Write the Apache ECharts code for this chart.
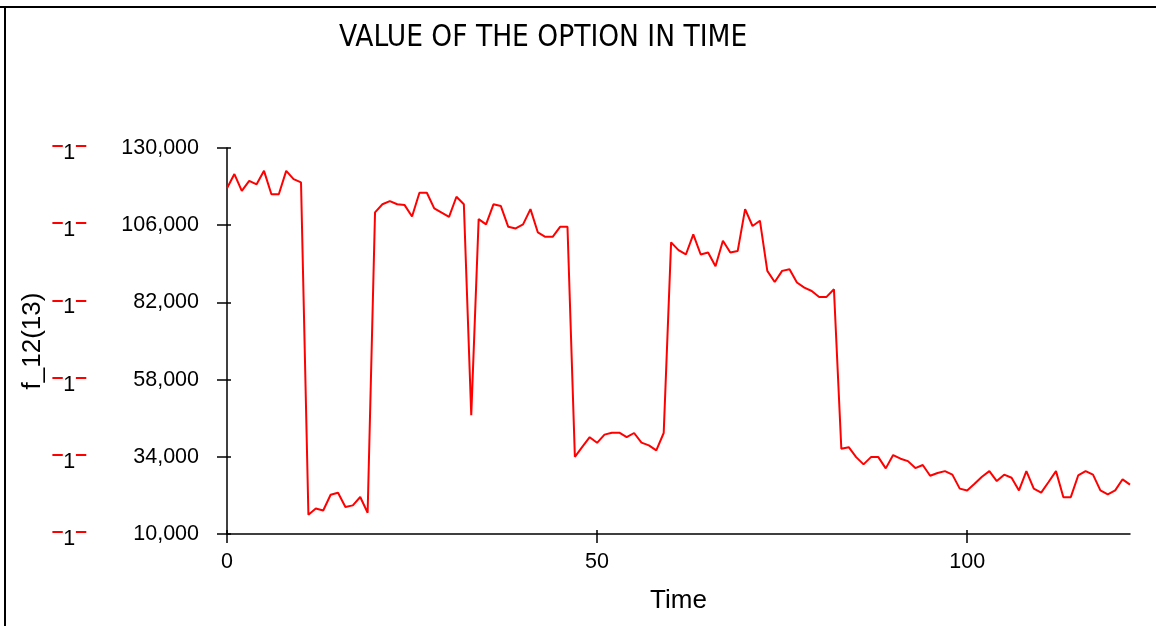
<!DOCTYPE html>
<html>
<head>
<meta charset="utf-8">
<title>VALUE OF THE OPTION IN TIME</title>
<script src="https://cdn.jsdelivr.net/npm/echarts@6/dist/echarts.min.js"></script>
<style>
  html, body { margin: 0; padding: 0; background: #fff; }
  #main { width: 1156px; height: 626px; }
</style>
</head>
<body>
<div id="main"></div>
<script>
// values, one per time step (0..122)
var optionValue = [
  117500, 121900, 116700, 119800, 118700, 122900, 115600, 115600, 122900, 120300,
  119300, 16000, 17900, 17300, 22200, 22850, 18400, 18900, 21500, 16600,
  110000, 112500, 113500, 112500, 112250, 108700, 116100, 116100, 111230, 109900,
  108600, 114850, 112500, 46900, 107900, 106250, 112500, 111950, 105500, 105000,
  106250, 111000, 103750, 102400, 102400, 105500, 105500, 34000, 37100, 40100,
  38350, 40900, 41500, 41500, 40100, 41400, 38400, 37550, 36000, 41400,
  100650, 98250, 96900, 103150, 96900, 97520, 93250, 101150, 97520, 98010,
  111000, 105750, 107400, 91800, 88350, 91800, 92300, 88200, 86600, 85550,
  83700, 83700, 86100, 36500, 37000, 33900, 31650, 33900, 33900, 30400,
  34550, 33400, 32650, 30500, 31450, 28100, 28950, 29550, 28450, 24100,
  23550, 25650, 27800, 29550, 26450, 28450, 27500, 23550, 29550, 24100,
  22850, 26150, 29550, 21450, 21450, 28200, 29550, 28450, 23550, 22300,
  23550, 27000, 25350
];
var xTicks = [0, 50, 100];
var yTicks = [10000, 34000, 58000, 82000, 106000, 130000];
var xMax = 122;

var chartTitle = 'VALUE OF THE OPTION IN TIME';
var xName = 'Time';
var yName = 'f_12(13)';

var font = '"Liberation Sans", Arial, sans-serif';

// [time, value] pairs for the line
var seriesData = optionValue.map(function (v, i) { return [i, v]; });

var chart = echarts.init(document.getElementById('main'), null, { renderer: 'canvas' });

var yBase = {
  type: 'value',
  min: yTicks[0],
  max: yTicks[yTicks.length - 1],
  interval: yTicks[1] - yTicks[0],
  splitLine: { show: false }
};

chart.setOption({
  animation: false,
  backgroundColor: '#fff',
  title: {
    text: chartTitle,
    left: 334,
    top: 18,
    textStyle: {
      fontFamily: '"DejaVu Sans Condensed", "DejaVu Sans", sans-serif',
      fontSize: 29.5,
      fontWeight: 'normal',
      color: '#000'
    }
  },
  graphic: [
    { type: 'line', shape: { x1: 0, y1: 7, x2: 1156, y2: 7 }, style: { stroke: '#000', lineWidth: 2 } },
    { type: 'line', shape: { x1: 5, y1: 7, x2: 5, y2: 626 }, style: { stroke: '#000', lineWidth: 2 } }
  ],
  grid: { left: 227, right: 26, top: 148, bottom: 92 },
  xAxis: [{
    type: 'value',
    min: 0,
    max: xMax,
    name: xName,
    nameLocation: 'middle',
    nameGap: 54,
    nameTextStyle: { fontFamily: font, fontSize: 26, color: '#000' },
    axisLine: { lineStyle: { color: '#000', width: 1.5 } },
    axisTick: { length: 9, lineStyle: { color: '#000', width: 1.5 }, customValues: xTicks },
    axisLabel: { customValues: xTicks, margin: 17, fontFamily: font, fontSize: 21.5, color: '#000' },
    splitLine: { show: false }
  }, {
    // inner half of the crossing ticks
    type: 'value', position: 'bottom', min: 0, max: xMax,
    axisLine: { show: false },
    axisTick: { inside: true, length: 4, lineStyle: { color: '#000', width: 1.5 }, customValues: xTicks },
    axisLabel: { show: false },
    splitLine: { show: false }
  }],
  yAxis: [
    Object.assign({}, yBase, {
      name: yName,
      nameLocation: 'middle',
      nameGap: 181,
      nameTextStyle: { fontFamily: font, fontSize: 26, color: '#000' },
      axisLine: { lineStyle: { color: '#000', width: 1.5 } },
      axisTick: { length: 10, lineStyle: { color: '#000', width: 1.5 } },
      axisLabel: {
        margin: 28,
        fontFamily: font,
        fontSize: 21.5,
        color: '#000',
        formatter: function (v) { return v.toLocaleString('en-US'); }
      }
    }),
    Object.assign({}, yBase, {
      position: 'left',
      axisLine: { show: false },
      axisTick: { inside: true, length: 4, lineStyle: { color: '#000', width: 1.5 } },
      axisLabel: { show: false }
    }),
    Object.assign({}, yBase, {
      position: 'left',
      offset: 130,
      axisLine: { show: false },
      axisTick: { show: false },
      axisLabel: {
        margin: 10,
        formatter: function () { return '{d|\u2013}{o|1}{d|\u2013}'; },
        rich: {
          d: { color: '#ff0000', fontFamily: font, fontSize: 21, fontWeight: 'bold', padding: [0, 0, 5, 0] },
          o: { color: '#000', fontFamily: font, fontSize: 21.5, padding: [10, 0, 0, 0] }
        }
      }
    })
  ],
  series: [{
    type: 'line',
    data: seriesData,
    showSymbol: false,
    symbol: 'none',
    lineStyle: { color: '#ff0000', width: 2 },
    itemStyle: { color: '#ff0000' }
  }]
});
</script>
</body>
</html>
